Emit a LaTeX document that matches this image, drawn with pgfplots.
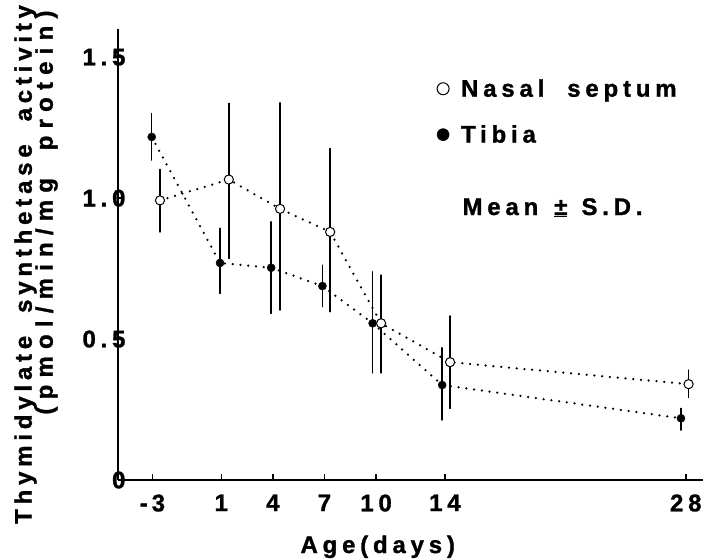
\documentclass[border=0pt]{standalone}
\usepackage{pgfplots}
\pgfplotsset{compat=1.18}
\usepackage{pgfplotstable}
\usepackage{fontspec}
\setmainfont{Liberation Sans}
\newfontfamily\chartfont{Liberation Sans Bold}[LetterSpace=20, WordSpace=2, FakeBold=1.2]
\newfontfamily\chartfontw{Liberation Sans Bold}[LetterSpace=30, WordSpace=2, FakeBold=1.2]
\newcommand\cf{\chartfont\fontsize{24}{27}\selectfont}

% age (days, shifted a little as in the figure), mean, +SD, -SD
\pgfplotstableread{
x     y     ep    em
-2.56 0.992 0.110 0.112
1.44  1.066 0.270 0.280
4.42  0.962 0.376 0.359
7.33  0.880 0.296 0.283
10.29 0.556 0.171 0.176
14.30 0.418 0.164 0.164
28.16 0.340 0.050 0.047
}\nasal

\pgfplotstableread{
x     y     ep    em
-3.04 1.217 0.083 0.082
0.93  0.770 0.123 0.108
3.90  0.753 0.163 0.162
6.88  0.688 0.074 0.073
9.80  0.556 0.183 0.176
13.84 0.337 0.132 0.124
27.72 0.219 0.035 0.042
}\tibia

\begin{document}
\begin{tikzpicture}
\useasboundingbox (-118pt,-78pt) rectangle (590pt,480pt);
\begin{axis}[
  at={(0,0)}, anchor=south west,
  scale only axis, width=585pt, height=451pt,
  xmin=-5, xmax=29, ymin=0, ymax=1.6,
  axis x line*=bottom, axis y line*=left,
  axis line style={line width=1.4pt},
  tick align=inside, major tick length=6pt,
  tick style={line width=1.4pt, black},
  xtick={-3,1,4,7,10,14,28},
  xticklabels={-\,3,1,4,7,10,14,28},
  ytick={0,0.5,1,1.5},
  yticklabels={0,0.5,1.0,1.5},
  ticklabel style={font=\cf},
  xticklabel style={yshift=-11pt},
  yticklabel style={xshift=11pt},
  clip=false,
  every axis plot/.append style={line width=2.5pt, dash pattern=on 0pt off 7.8pt, line cap=round},
  error bars/error bar style={solid, line width=1.5pt},
  legend image code/.code={\draw[#1, mark size=6pt] plot coordinates {(0cm,0cm)};},
  legend style={at={(axis description cs:0.54,0.90)}, anchor=north west,
    draw=none, fill=none, font=\cf, row sep=21pt, column sep=9pt,
    nodes={inner sep=3pt}},
  legend cell align=left,
]
\addplot[black, mark=*, mark size=4.6pt,
  mark options={solid, fill=white, draw=black, line width=1pt},
  error bars/.cd, y dir=both, y explicit, error mark=none]
  table[x=x, y=y, y error plus=ep, y error minus=em] {\nasal};
\addlegendentry{Nasal septum}
\addplot[black, mark=*, mark size=4pt,
  mark options={solid, fill=black, line width=0.5pt},
  error bars/.cd, y dir=both, y explicit, error mark=none]
  table[x=x, y=y, y error plus=ep, y error minus=em] {\tibia};
\addlegendentry{Tibia}

\node[font=\cf, anchor=base west] at ([xshift=341pt, yshift=265pt]axis description cs:0,0) {Mean\hspace{16pt}\underline{±}\hspace{14pt}S.D.};
\node[font=\cf, anchor=base] at ([yshift=-73pt]axis description cs:0.444,0) {Age(days)};
\node[font=\cf, rotate=90, anchor=base] at ([xshift=-86.3pt]axis description cs:0,0.478) {Thymidylate synthetase activity};
\node[font=\chartfontw\fontsize{24}{27}\selectfont, rotate=90, anchor=base] at ([xshift=-65.3pt]axis description cs:0,0.593) {(pmol/min/mg protein)};
\end{axis}
\end{tikzpicture}
\end{document}
